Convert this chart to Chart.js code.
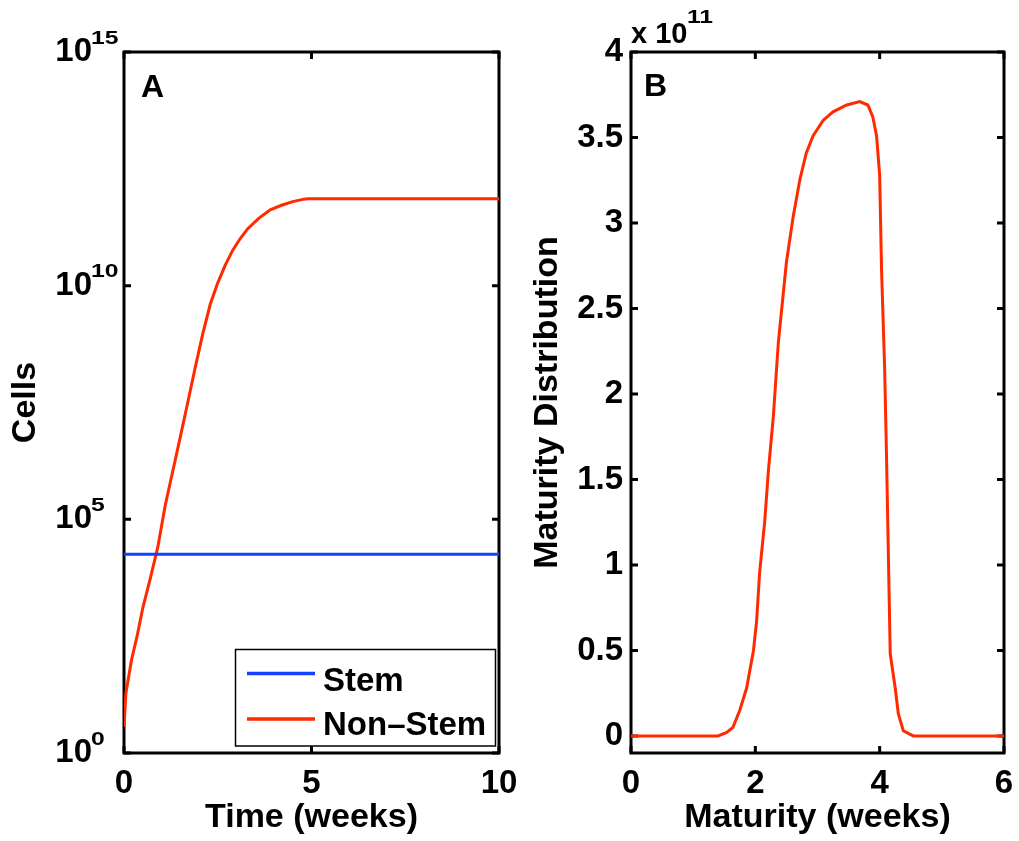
<!DOCTYPE html>
<html>
<head>
<meta charset="utf-8">
<script src="https://cdn.jsdelivr.net/npm/chart.js@4.4.1/dist/chart.umd.min.js"></script>
<style>
  html, body { margin: 0; padding: 0; background: #fff; }
  #wrap { position: relative; width: 1019px; height: 841px; background: #fff; overflow: hidden; }
  canvas { position: absolute; top: 0; }
</style>
</head>
<body>
<div id="wrap">
  <canvas id="panelA" width="520" height="841" style="left:0px"></canvas>
  <canvas id="panelB" width="499" height="841" style="left:520px"></canvas>
</div>
<script>
// ---------- Panel A data ----------
const timeWeeks = [0, 0.05, 0.2, 0.35, 0.5, 0.7, 0.9, 1.1, 1.3, 1.5, 1.7, 1.9, 2.1, 2.3, 2.5, 2.7, 2.9, 3.1, 3.3, 3.6, 3.9, 4.2, 4.5, 4.8, 4.9, 10];
const nonStemCells = [3.6, 19, 98, 320, 1260, 5400, 25000, 2.0e5, 1.07e6, 5.75e6, 3.16e7, 1.78e8, 9.3e8, 4.0e9, 1.15e10, 2.75e10, 5.75e10, 1.02e11, 1.66e11, 2.8e11, 4.2e11, 5.25e11, 6.3e11, 7.1e11, 7.2e11, 7.2e11];
const stemTime = [0, 10];
const stemCells = [1.8e4, 1.8e4];
const cellTicks = [1, 1e5, 1e10, 1e15];
const cellTickExponents = ['0', '5', '10', '15'];
const timeTicks = [0, 5, 10];
const seriesLabels = ['Stem', 'Non\u2013Stem'];

// ---------- Panel B data ----------
const maturityWeeks = [0, 1.40, 1.54, 1.64, 1.75, 1.86, 1.97, 2.02, 2.07, 2.15, 2.21, 2.29, 2.37, 2.50, 2.61, 2.72, 2.82, 2.93, 3.09, 3.25, 3.47, 3.68, 3.81, 3.89, 3.95, 4.00, 4.03, 4.08, 4.11, 4.14, 4.17, 4.25, 4.30, 4.38, 4.54, 6];
const maturityDist = [0, 0, 0.02e11, 0.05e11, 0.15e11, 0.28e11, 0.5e11, 0.67e11, 0.96e11, 1.25e11, 1.55e11, 1.87e11, 2.30e11, 2.77e11, 3.04e11, 3.26e11, 3.41e11, 3.51e11, 3.60e11, 3.65e11, 3.69e11, 3.71e11, 3.69e11, 3.62e11, 3.51e11, 3.28e11, 2.73e11, 2.15e11, 1.64e11, 1.06e11, 0.48e11, 0.28e11, 0.13e11, 0.03e11, 0, 0];
const distTicks = [0, 0.5e11, 1e11, 1.5e11, 2e11, 2.5e11, 3e11, 3.5e11, 4e11];
const distTickLabels = ['0', '0.5', '1', '1.5', '2', '2.5', '3', '3.5', '4'];
const maturityTicks = [0, 2, 4, 6];

const FONT = "'Liberation Sans', Arial, Helvetica, sans-serif";
const RED = '#ff2a00';
const BLUE = '#1440ff';

// frame with inward ticks on all four sides (drawn below the data)
const framePlugin = {
  id: 'frame',
  beforeDatasetsDraw(chart) {
    const { ctx, chartArea: a, scales: { x, y } } = chart;
    ctx.save();
    ctx.strokeStyle = '#000';
    ctx.lineWidth = 3;
    ctx.lineJoin = 'miter';
    ctx.strokeRect(a.left, a.top, a.right - a.left, a.bottom - a.top);
    const L = 7;
    ctx.beginPath();
    x.ticks.forEach(t => {
      const px = x.getPixelForValue(t.value);
      ctx.moveTo(px, a.bottom); ctx.lineTo(px, a.bottom - L);
      ctx.moveTo(px, a.top); ctx.lineTo(px, a.top + L);
    });
    y.ticks.forEach(t => {
      const py = y.getPixelForValue(t.value);
      ctx.moveTo(a.left, py); ctx.lineTo(a.left + L, py);
      ctx.moveTo(a.right, py); ctx.lineTo(a.right - L, py);
    });
    ctx.stroke();
    ctx.restore();
  }
};

function panelLetter(letter, dx, baseline) {
  return {
    id: 'letter' + letter,
    afterDraw(chart) {
      const { ctx, chartArea: a } = chart;
      ctx.save();
      ctx.fillStyle = '#000';
      ctx.font = 'bold 32px ' + FONT;
      ctx.textAlign = 'left';
      ctx.textBaseline = 'alphabetic';
      ctx.fillText(letter, a.left + dx, baseline);
      ctx.restore();
    }
  };
}

function drawSup(ctx, text, x, y) {
  ctx.save();
  ctx.translate(x, y);
  ctx.scale(1.3, 1);
  ctx.font = 'bold 19px ' + FONT;
  ctx.textAlign = 'left';
  ctx.textBaseline = 'alphabetic';
  ctx.fillStyle = '#000';
  ctx.fillText(text, 0, 0);
  ctx.restore();
}

// superscript exponents for log ticks of panel A
const exponentPlugin = {
  id: 'exponents',
  afterDraw(chart) {
    const { ctx, scales: { y } } = chart;
    y.ticks.forEach((t, i) => {
      const py = y.getPixelForValue(t.value);
      drawSup(ctx, cellTickExponents[i], 91, py - 8.5);
    });
  }
};

// legend box inside panel A
const legendBoxPlugin = {
  id: 'legendBox',
  afterDraw(chart) {
    const { ctx } = chart;
    const bx = 235.5, by = 649.5, bw = 260, bh = 96.5;
    ctx.save();
    ctx.fillStyle = '#fff';
    ctx.fillRect(bx, by, bw, bh);
    ctx.strokeStyle = '#000';
    ctx.lineWidth = 1.5;
    ctx.strokeRect(bx, by, bw, bh);
    const rows = [673.5, 719];
    const baselines = [690.7, 735];
    chart.data.datasets.forEach((ds, i) => {
      ctx.strokeStyle = ds.borderColor;
      ctx.lineWidth = 3.5;
      ctx.beginPath();
      ctx.moveTo(247, rows[i]);
      ctx.lineTo(315, rows[i]);
      ctx.stroke();
      ctx.fillStyle = '#000';
      ctx.font = 'bold 33px ' + FONT;
      ctx.textAlign = 'left';
      ctx.textBaseline = 'alphabetic';
      ctx.fillText(ds.label, 323, baselines[i]);
    });
    ctx.restore();
  }
};

// multiplier "x 10^11" above panel B
const multiplierPlugin = {
  id: 'multiplier',
  afterDraw(chart) {
    const { ctx } = chart;
    ctx.save();
    ctx.fillStyle = '#000';
    ctx.textAlign = 'left';
    ctx.textBaseline = 'alphabetic';
    ctx.font = 'bold 29px ' + FONT;
    ctx.fillText('x 10', 111, 43);
    ctx.restore();
    drawSup(ctx, '11', 167, 22.5);
  }
};

const tickFont = { family: FONT, size: 33, weight: 'bold' };
const titleFont = { family: FONT, size: 34, weight: 'bold' };

function fixX(h) { return s => { s.height = h; s.paddingLeft = 0; s.paddingRight = 0; }; }
function fixY(w) { return s => { s.width = w; s.paddingTop = 0; s.paddingBottom = 0; }; }

// ---------- Panel A ----------
new Chart(document.getElementById('panelA'), {
  type: 'line',
  data: {
    datasets: [
      {
        label: seriesLabels[0],
        data: stemTime.map((t, i) => ({ x: t, y: stemCells[i] })),
        borderColor: BLUE, borderWidth: 3, pointRadius: 0, tension: 0, fill: false
      },
      {
        label: seriesLabels[1],
        data: timeWeeks.map((t, i) => ({ x: t, y: nonStemCells[i] })),
        borderColor: RED, borderWidth: 3, pointRadius: 0, tension: 0, fill: false
      }
    ]
  },
  options: {
    responsive: false, animation: false, devicePixelRatio: 1,
    layout: { padding: { left: 0, right: 21, top: 52, bottom: 0 } },
    plugins: { legend: { display: false }, tooltip: { enabled: false } },
    scales: {
      x: {
        type: 'linear', min: 0, max: 10,
        afterBuildTicks: s => { s.ticks = timeTicks.map(v => ({ value: v })); },
        ticks: { font: tickFont, color: '#000', padding: 11, maxRotation: 0, autoSkip: false, callback: v => String(v) },
        grid: { display: false, drawTicks: false },
        border: { display: false },
        title: { display: true, text: 'Time (weeks)', font: titleFont, color: '#000', padding: { top: 0, bottom: 3 } },
        afterFit: fixX(88)
      },
      y: {
        type: 'logarithmic', min: 1, max: 1e15,
        afterBuildTicks: s => { s.ticks = cellTicks.map(v => ({ value: v })); },
        ticks: { font: tickFont, color: '#000', padding: 32, autoSkip: false, callback: () => '10' },
        grid: { display: false, drawTicks: false },
        border: { display: false },
        title: { display: true, text: 'Cells', font: titleFont, color: '#000', padding: { top: 5, bottom: 0 } },
        afterFit: fixY(124)
      }
    }
  },
  plugins: [framePlugin, exponentPlugin, legendBoxPlugin, panelLetter('A', 17, 97)]
});

// ---------- Panel B ----------
new Chart(document.getElementById('panelB'), {
  type: 'line',
  data: {
    datasets: [
      {
        label: 'Maturity Distribution',
        data: maturityWeeks.map((m, i) => ({ x: m, y: maturityDist[i] })),
        borderColor: RED, borderWidth: 3, pointRadius: 0, tension: 0, fill: false
      }
    ]
  },
  options: {
    responsive: false, animation: false, devicePixelRatio: 1,
    layout: { padding: { left: 0, right: 15, top: 52, bottom: 0 } },
    plugins: { legend: { display: false }, tooltip: { enabled: false } },
    scales: {
      x: {
        type: 'linear', min: 0, max: 6,
        afterBuildTicks: s => { s.ticks = maturityTicks.map(v => ({ value: v })); },
        ticks: { font: tickFont, color: '#000', padding: 11, maxRotation: 0, autoSkip: false, callback: v => String(v) },
        grid: { display: false, drawTicks: false },
        border: { display: false },
        title: { display: true, text: 'Maturity (weeks)', font: titleFont, color: '#000', padding: { top: 0, bottom: 3 } },
        afterFit: fixX(88)
      },
      y: {
        type: 'linear', min: -0.1e11, max: 4e11,
        afterBuildTicks: s => { s.ticks = distTicks.map(v => ({ value: v })); },
        ticks: { font: tickFont, color: '#000', padding: 8, autoSkip: false, callback: (v, i) => distTickLabels[i] },
        grid: { display: false, drawTicks: false },
        border: { display: false },
        title: { display: true, text: 'Maturity Distribution', font: titleFont, color: '#000', padding: { top: 7, bottom: 0 } },
        afterFit: fixY(111)
      }
    }
  },
  plugins: [framePlugin, multiplierPlugin, panelLetter('B', 13, 96)]
});
</script>
</body>
</html>
